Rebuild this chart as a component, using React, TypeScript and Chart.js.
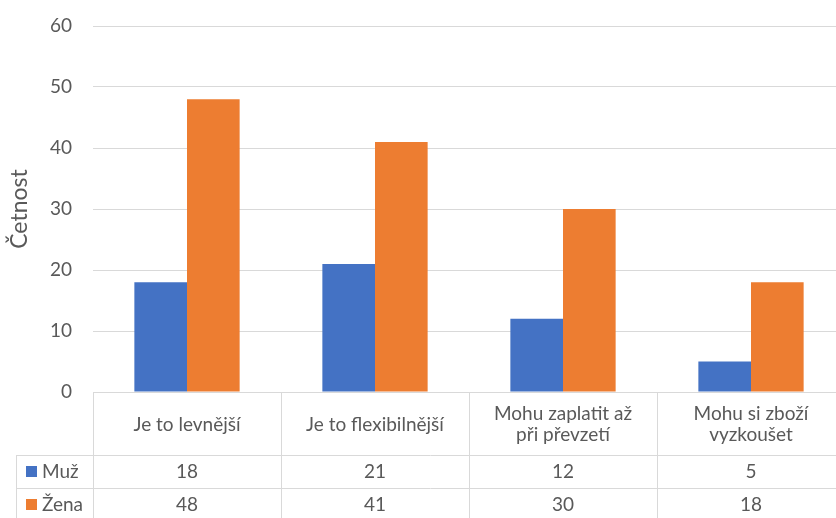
import React, { useEffect, useRef } from "react";
import { Chart, registerables } from "chart.js";

Chart.register(...registerables);

// Answer categories (multi-line labels are split into rows)
const categories: string[][] = [
  ["Je to levnější"],
  ["Je to flexibilnější"],
  ["Mohu zaplatit až", "při převzetí"],
  ["Mohu si zboží", "vyzkoušet"],
];

const seriesNames = ["Muž", "Žena"];
const muzValues = [18, 21, 12, 5];
const zenaValues = [48, 41, 30, 18];

const yMin = 0;
const yMax = 60;
const yStep = 10;
const yTitle = "Četnost";

const COLORS = ["#4472C4", "#ED7D31"];
const TEXT = "#595959";
const GRID = "#D9D9D9";
const FONT = "Lato, 'Open Sans', sans-serif";
const LABEL_SIZE = 19;

// Draws an Excel-style data table under the category axis
const dataTablePlugin = {
  id: "dataTable",
  afterDraw(chart: any) {
    const { ctx, chartArea, scales } = chart;
    const xs = scales.x;
    const n = chart.data.labels.length;
    const step = (chartArea.right - chartArea.left) / n;
    const top = Math.round(chartArea.bottom);
    const headerH = 63;
    const rowH = 33;
    const legendLeft = 16;
    const bottom = chart.height + 2;
    const right = chartArea.right;
    const crisp = (v: number) => Math.round(v) + 0.5;

    ctx.save();
    ctx.strokeStyle = GRID;
    ctx.lineWidth = 1;

    // horizontal rules of the value rows
    const rowTops = chart.data.datasets.map((_: any, i: number) => top + headerH + i * rowH);
    ctx.beginPath();
    rowTops.forEach((y: number) => {
      ctx.moveTo(legendLeft, crisp(y));
      ctx.lineTo(right, crisp(y));
    });
    // left edge of the legend column
    ctx.moveTo(crisp(legendLeft), top + headerH);
    ctx.lineTo(crisp(legendLeft), bottom);
    // category separators
    for (let i = 0; i <= n; i++) {
      const xb = chartArea.left + i * step;
      ctx.moveTo(crisp(xb), top);
      ctx.lineTo(crisp(xb), bottom);
    }
    ctx.stroke();

    ctx.fillStyle = TEXT;
    ctx.font = `${LABEL_SIZE}px ${FONT}`;
    ctx.textAlign = "center";
    ctx.textBaseline = "middle";

    // header row: category names
    const lineH = 21;
    chart.data.labels.forEach((lab: string[], i: number) => {
      const cx = xs.getPixelForValue(i);
      const cy = top + headerH / 2 + 1;
      const lines = Array.isArray(lab) ? lab : [lab];
      lines.forEach((t, k) => {
        ctx.fillText(t, cx, cy + (k - (lines.length - 1) / 2) * lineH);
      });
    });

    // value rows with legend keys
    chart.data.datasets.forEach((ds: any, r: number) => {
      const cy = rowTops[r] + rowH / 2;
      ctx.fillStyle = ds.backgroundColor;
      ctx.fillRect(26, Math.round(cy - 6), 11, 11);
      ctx.fillStyle = TEXT;
      ctx.textAlign = "left";
      ctx.fillText(ds.label, 42, cy);
      ctx.textAlign = "center";
      ds.data.forEach((v: number, i: number) => {
        ctx.fillText(String(v), xs.getPixelForValue(i), cy);
      });
    });
    ctx.restore();
  },
};

export default function App() {
  const canvasRef = useRef<HTMLCanvasElement | null>(null);

  useEffect(() => {
    if (!canvasRef.current) return;
    const chart = new Chart(canvasRef.current, {
      type: "bar",
      data: {
        labels: categories as any,
        datasets: [
          { label: seriesNames[0], data: muzValues, backgroundColor: COLORS[0] },
          { label: seriesNames[1], data: zenaValues, backgroundColor: COLORS[1] },
        ],
      },
      options: {
        animation: false,
        responsive: false,
        maintainAspectRatio: false,
        layout: { padding: { top: 26, right: 5, bottom: 126, left: 0 } },
        datasets: { bar: { categoryPercentage: 0.56, barPercentage: 1 } },
        plugins: {
          legend: { display: false },
          tooltip: { enabled: false },
        },
        scales: {
          x: {
            display: false,
          },
          y: {
            min: yMin,
            max: yMax,
            afterFit: (scale: any) => {
              scale.width = 93;
              scale.paddingTop = 0;
              scale.paddingBottom = 0;
            },
            ticks: {
              stepSize: yStep,
              color: TEXT,
              padding: 21,
              font: { family: FONT, size: LABEL_SIZE },
            },
            grid: { color: GRID, drawTicks: false },
            border: { display: false },
            title: {
              display: true,
              text: yTitle,
              color: TEXT,
              padding: { top: 6, bottom: 0 },
              font: { family: FONT, size: 23 },
            },
          },
        },
      },
      plugins: [dataTablePlugin],
    });
    return () => chart.destroy();
  }, []);

  return (
    <div
      style={{
        position: "fixed",
        left: 0,
        top: 0,
        width: 836,
        height: 518,
        overflow: "hidden",
        background: "#fff",
      }}
    >
      <canvas ref={canvasRef} width={850} height={518} style={{ display: "block" }} />
    </div>
  );
}
